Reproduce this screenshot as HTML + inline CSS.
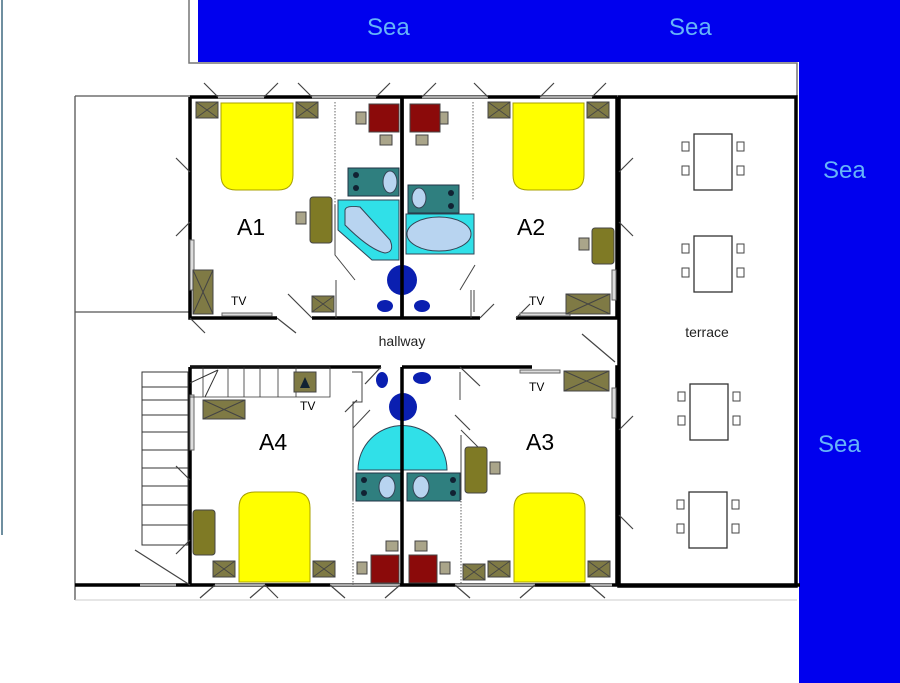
<!DOCTYPE html>
<html><head><meta charset="utf-8"><style>
html,body{margin:0;padding:0;background:#fff;}
svg{display:block;font-family:"Liberation Sans",sans-serif;}
</style></head><body>
<svg width="900" height="683" viewBox="0 0 900 683" xmlns="http://www.w3.org/2000/svg">
<defs>
<g id="wd"><rect x="0" y="0" width="22" height="16" fill="#7f7a45" stroke="#444" stroke-width="1"/><path d="M0 0L22 16M22 0L0 16" stroke="#444" stroke-width="0.8"/></g>
<g id="ch"><rect x="0" y="0" width="7" height="9" fill="#fff" stroke="#444" stroke-width="1"/></g>
<g id="tbl">
<rect x="0" y="0" width="38" height="56" fill="#fff" stroke="#333" stroke-width="1.3"/>
<use href="#ch" x="-12" y="8"/><use href="#ch" x="-12" y="32"/>
<use href="#ch" x="43" y="8"/><use href="#ch" x="43" y="32"/>
</g>
</defs>
<rect width="900" height="683" fill="#fff"/>
<rect x="198" y="0" width="702" height="62" fill="#0000ee"/>
<rect x="799" y="62" width="101" height="621" fill="#0000ee"/>
<line x1="2" y1="0" x2="2" y2="535" stroke="#6f8fa0" stroke-width="2"/>
<path d="M189 0V63H797V96" fill="none" stroke="#777" stroke-width="1.5"/>
<g fill="#66b4f8" font-size="24">
<text x="367" y="35">Sea</text><text x="669" y="35">Sea</text>
<text x="823" y="178">Sea</text><text x="818" y="452">Sea</text>
</g>
<path d="M75 96H190M75 96V600M75 312H190" fill="none" stroke="#555" stroke-width="1.3"/>
<line x1="75" y1="600" x2="797" y2="600" stroke="#ccc" stroke-width="1"/>
<rect x="619" y="97" width="177" height="489" fill="none" stroke="#000" stroke-width="3.5"/>
<use href="#tbl" x="694" y="134"/><use href="#tbl" x="694" y="236"/>
<use href="#tbl" x="690" y="384"/><use href="#tbl" x="689" y="492"/>
<text x="707" y="337" font-size="14" text-anchor="middle" fill="#222">terrace</text>
<g stroke="#000" stroke-width="3.5" fill="none">
<path d="M190 97V318H277M312 318H402M190 97H617"/>
<line x1="402" y1="97" x2="402" y2="318"/>
<path d="M402 318H480M516 318H617V97"/>
<path d="M190 367V585M190 367H381M402 367H532M619 367H617V585"/>
<path d="M75 585H800"/>
</g>
<!-- window segments on top and bottom walls -->
<g stroke="#aaa" stroke-width="2.5">
<path d="M218 97H264M312 97H376M422 97H488M540 97H592"/>
<path d="M140 585H176M215 585H265M330 585H400M455 585H535M590 585H612"/>
</g>
<g stroke="#444" stroke-width="1.2">
<path d="M218 97L204 83M264 97L278 83M312 97L298 83M376 97L390 83M422 97L436 83M488 97L474 83M540 97L554 83M592 97L606 83"/>
<path d="M190 172L176 158M190 222L176 236M619 172L633 158M619 222L633 236M619 430L633 416M619 515L633 529M190 480L176 466M190 540L176 554"/>
<path d="M277 318L296 333M190 318L205 333M312 318L288 294M480 318L494 304M516 318L530 304M582 334L615 362"/>
<path d="M265 585L250 598M265 585L278 598M330 585L345 598M400 585L385 598M455 585L470 598M535 585L520 598M590 585L605 598M215 585L200 598M135 550L190 585"/>
<path d="M381 367L365 384M460 367L480 386M357 400L345 412M455 415L470 430"/>
</g>
<g fill="#ddd" stroke="#666" stroke-width="1">
<rect x="190" y="240" width="4" height="50"/><rect x="612" y="270" width="4" height="30"/>
<rect x="190" y="395" width="4" height="55"/><rect x="612" y="388" width="4" height="30"/>
<rect x="222" y="313" width="50" height="3"/><rect x="520" y="313" width="50" height="3"/><rect x="520" y="370" width="40" height="3"/>
</g>
<g stroke="#666" stroke-width="1" stroke-dasharray="1.5,1.5">
<line x1="335" y1="102" x2="335" y2="205"/><line x1="473" y1="102" x2="473" y2="200"/>
<line x1="353" y1="500" x2="353" y2="585"/><line x1="461" y1="495" x2="461" y2="585"/>
</g>
<g stroke="#444" stroke-width="1" fill="none">
<path d="M335 205V255L355 280M336 280V318M475 265L460 290M471 290V318M474 290V312"/>
<path d="M352 372H362V402H353V428L370 410M353 428V500M460 372V400M461 435V500M461 430L478 447"/>
</g>
<g fill="#ffff00" stroke="#a8a000" stroke-width="1">
<path d="M221 103H293V175Q293 190 278 190H236Q221 190 221 175Z"/>
<path d="M513 103H584V175Q584 190 569 190H528Q513 190 513 175Z"/>
<path d="M239 582V508Q239 492 255 492H294Q310 492 310 508V582Z"/>
<path d="M514 582V508Q514 493 530 493H569Q585 493 585 508V582Z"/>
</g>
<use href="#wd" x="196" y="102"/><use href="#wd" x="296" y="102"/>
<use href="#wd" x="488" y="102"/><use href="#wd" x="587" y="102"/>
<use href="#wd" x="312" y="296"/>
<rect x="193" y="270" width="20" height="44" fill="#7f7a45" stroke="#444"/><path d="M193 270L213 314M213 270L193 314" stroke="#444"/>
<rect x="566" y="294" width="44" height="20" fill="#7f7a45" stroke="#444"/><path d="M566 294L610 314M610 294L566 314" stroke="#444"/>
<rect x="203" y="400" width="42" height="19" fill="#7f7a45" stroke="#444"/><path d="M203 400L245 419M245 400L203 419" stroke="#444"/>
<rect x="564" y="371" width="45" height="20" fill="#7f7a45" stroke="#444"/><path d="M564 371L609 391M609 371L564 391" stroke="#444"/>
<use href="#wd" x="213" y="561"/><use href="#wd" x="313" y="561"/>
<use href="#wd" x="463" y="564"/><use href="#wd" x="488" y="561"/><use href="#wd" x="588" y="561"/>
<g fill="#7f7a25" stroke="#444">
<rect x="310" y="197" width="22" height="46" rx="3"/><rect x="592" y="228" width="22" height="36" rx="3"/>
<rect x="193" y="510" width="22" height="45" rx="3"/><rect x="465" y="447" width="22" height="46" rx="3"/>
</g>
<g fill="#aaa58a" stroke="#444">
<rect x="296" y="212" width="10" height="12"/><rect x="579" y="238" width="10" height="12"/><rect x="490" y="462" width="10" height="12"/>
<rect x="356" y="112" width="10" height="12"/><rect x="438" y="112" width="10" height="12"/>
<rect x="380" y="135" width="12" height="10"/><rect x="416" y="135" width="12" height="10"/>
<rect x="386" y="541" width="12" height="10"/><rect x="415" y="541" width="12" height="10"/>
<rect x="357" y="562" width="10" height="12"/><rect x="440" y="562" width="10" height="12"/>
</g>
<g fill="#8b0a0a" stroke="#444">
<rect x="369" y="104" width="30" height="28"/><rect x="410" y="104" width="30" height="28"/>
<rect x="371" y="555" width="28" height="28"/><rect x="409" y="555" width="28" height="28"/>
</g>
<g stroke="#234" stroke-width="1">
<rect x="348" y="168" width="51" height="28" fill="#2f7f7f"/><rect x="408" y="185" width="51" height="28" fill="#2f7f7f"/>
<rect x="356" y="473" width="45" height="28" fill="#2f7f7f"/><rect x="407" y="473" width="53" height="28" fill="#2f7f7f"/>
</g>
<g fill="#123">
<circle cx="356" cy="175" r="3"/><circle cx="356" cy="188" r="3"/>
<circle cx="451" cy="193" r="3"/><circle cx="451" cy="206" r="3"/>
<circle cx="364" cy="480" r="3"/><circle cx="364" cy="493" r="3"/>
<circle cx="453" cy="480" r="3"/><circle cx="453" cy="493" r="3"/>
</g>
<g fill="#b8d4f0" stroke="#345">
<ellipse cx="390" cy="182" rx="7" ry="11"/><ellipse cx="419" cy="198" rx="7" ry="10"/>
<ellipse cx="387" cy="487" rx="8" ry="11"/><ellipse cx="421" cy="487" rx="8" ry="11"/>
</g>
<path d="M338 200H399V260H372L338 230Z" fill="#30e0e8" stroke="#345"/>
<path d="M345 210Q346 205 360 207L390 240Q395 252 385 253Q370 250 345 225Z" fill="#b8d4f0" stroke="#345"/>
<rect x="406" y="214" width="68" height="40" fill="#30e0e8" stroke="#345"/>
<ellipse cx="439" cy="234" rx="32" ry="17" fill="#b8d4f0" stroke="#345"/>
<path d="M358 470A43 43 0 0 1 447 470Z" fill="#30e0e8" stroke="#345"/>
<g fill="#0a1fb0">
<circle cx="402" cy="280" r="15"/><ellipse cx="385" cy="306" rx="8" ry="6"/><ellipse cx="422" cy="306" rx="8" ry="6"/>
<ellipse cx="382" cy="380" rx="6" ry="8"/><ellipse cx="422" cy="378" rx="9" ry="6"/><circle cx="403" cy="407" r="14"/>
</g>
<line x1="402" y1="97" x2="402" y2="318" stroke="#000" stroke-width="3.5"/>
<line x1="402" y1="367" x2="402" y2="585" stroke="#000" stroke-width="3.5"/>
<g stroke="#333" stroke-width="1" fill="none">
<rect x="142" y="372" width="46" height="173"/>
<path d="M142 387H188M142 400H188M142 415H188M142 432H188M142 450H188M142 468H188M142 486H188M142 505H188M142 525H188"/>
<path d="M190 367H330V397H190M203 367V397M228 367V397M244 367V397M260 367V397M278 367V397M296 367V397" stroke-width="0.8"/>
<path d="M190 383L218 370M205 397L218 370"/>
</g>
<rect x="294" y="372" width="22" height="20" fill="#7f7a45" stroke="#444"/>
<path d="M300 388L305 377L310 388Z" fill="#123"/>
<g font-size="23" fill="#000">
<text x="237" y="235">A1</text><text x="517" y="235">A2</text>
<text x="259" y="450">A4</text><text x="526" y="450">A3</text>
</g>
<g font-size="12" fill="#000">
<text x="231" y="305">TV</text><text x="529" y="305">TV</text>
<text x="300" y="410">TV</text><text x="529" y="391">TV</text>
</g>
<text x="402" y="346" font-size="14" text-anchor="middle" fill="#222">hallway</text>
</svg>
</body></html>
